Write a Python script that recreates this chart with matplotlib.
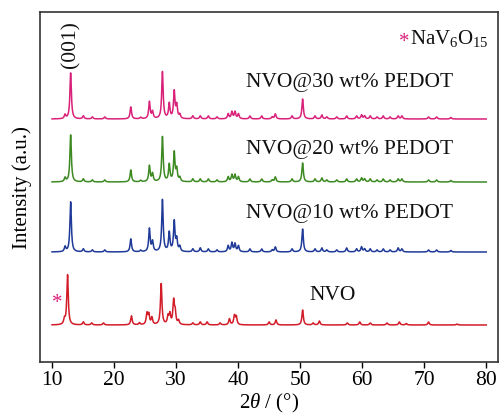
import numpy as np
import matplotlib
matplotlib.use("Agg")
import matplotlib.pyplot as plt

plt.rcParams['font.family'] = ['Liberation Serif', 'DejaVu Serif']
plt.rcParams['mathtext.fontset'] = 'custom'
plt.rcParams['mathtext.rm'] = 'Liberation Serif'
plt.rcParams['mathtext.it'] = 'Liberation Serif:italic'

# Peak lists: (2theta in degrees, relative intensity)
nvo_pos = [12.0, 12.5, 15.05, 16.4, 18.3, 22.8, 24.1, 25.3, 25.6, 26.1, 27.6, 28.7, 29.0, 29.6, 29.85,
           30.4, 32.7, 33.9, 35.0, 37.1, 38.6, 39.4, 39.7, 45.0, 46.1, 50.4, 52.1, 53.1, 57.6, 59.6,
           61.3, 64.0, 66.0, 67.1, 70.7, 75.3]
nvo_int = [5, 50, 3, 2, 2, 9, 2, 11, 10, 7, 41, 8, 10, 23, 12,
           4, 2, 3, 3, 2, 6, 9, 8, 3, 5, 15, 2, 4, 2, 3,
           2, 2, 3, 1.5, 3, 1]

pedot_pos = [12.1, 13.0, 15.05, 16.5, 18.5, 22.7, 24.3, 25.7, 26.2, 27.8, 28.9, 29.7, 30.1, 30.6,
             32.7, 33.9, 35.2, 36.6, 38.4, 39.0, 39.5, 40.05, 41.9, 43.8, 45.5, 46.0, 48.7, 50.4,
             52.4, 53.5, 54.3, 55.9, 57.5, 59.1, 59.9, 60.4, 61.3, 62.4, 63.4, 64.5, 65.8, 66.4,
             70.7, 72.0, 74.3]
nvo10_int = [5, 50, 3, 2, 2, 13, 1.5, 23, 10, 52, 19, 30, 12, 5,
             3, 4, 3, 2, 6, 9, 8, 6, 3, 3, 2, 5, 3, 23,
             3, 4, 2, 2, 4, 3, 5, 3, 3, 2, 3, 2, 4, 3,
             2, 2, 1.5]
nvo20_int = [4, 47, 3, 2, 2, 12, 1.5, 16, 8, 45, 17, 29, 12, 4,
             3, 3, 3, 2, 5, 7, 7, 5, 3, 3, 2, 5, 3, 19,
             3, 4, 2, 2, 3, 3, 4, 3, 3, 2, 3, 2, 3, 3,
             2, 2, 1.5]
nvo30_int = [4, 46, 3, 2, 2, 12, 1.5, 17, 7, 47, 15, 27, 13, 4,
             3, 3, 3, 2, 5, 7, 7, 5, 3, 3, 2, 5, 3, 20,
             3, 4, 2, 2, 3, 3, 4, 3, 3, 2, 3, 2, 3, 3,
             2, 2, 1.5]

labels = ['NVO', 'NVO@10 wt% PEDOT', 'NVO@20 wt% PEDOT', 'NVO@30 wt% PEDOT']
colors = ['#d21c28', '#1f3a98', '#3d8a22', '#d9217a']
offsets = [37, 110, 180, 243]

x = np.linspace(10, 80, 3500)


def pattern(pos, inten, w=0.14):
    y = np.zeros_like(x)
    for p, h in zip(pos, inten):
        y += h * w**2 / ((x - p)**2 + w**2)
    return y


series = [(nvo_pos, nvo_int), (pedot_pos, nvo10_int), (pedot_pos, nvo20_int), (pedot_pos, nvo30_int)]

fig = plt.figure(figsize=(5.0, 4.14), dpi=100)
ax = fig.add_axes([0.08, 0.1232, 0.916, 0.8454])

for (pos, inten), c, off in zip(series, colors, offsets):
    ax.plot(x, pattern(pos, inten) + off, color=c, lw=1.1)

ax.set_xlim(8.06, 81.9)
ax.set_ylim(0, 350)
ax.set_xticks([10, 20, 30, 40, 50, 60, 70, 80])
ax.set_yticks([])
ax.tick_params(axis='x', direction='out', length=4, width=1, labelsize=15.5, pad=2)
for s in ax.spines.values():
    s.set_linewidth(1.2)
    s.set_color('#333333')

ax.set_xlabel(r'2$\it{\theta}$ / (°)', fontsize=15, labelpad=1)
ax.set_ylabel('Intensity (a.u.)', fontsize=15, labelpad=6)

txt_kw = dict(fontsize=15.5, color='#111111', va='center', ha='left')
ax.text(41.2, 280, labels[3], **txt_kw)
ax.text(41.2, 213, labels[2], **txt_kw)
ax.text(41.2, 149, labels[1], **txt_kw)
ax.text(51.5, 67, labels[0], **txt_kw)

ax.text(13.0, 318, '(001)', rotation=90, fontsize=15.5, ha='center', va='center', color='#111111')
ax.text(10.8, 59, '*', color='#d9217a', fontsize=15, ha='center', va='center')
ax.text(66.8, 320, '*', color='#d9217a', fontsize=15, ha='center', va='center')
ax.text(67.7, 324, r'NaV$_{6}$O$_{15}$', color='#111111', fontsize=15, ha='left', va='center')

fig.savefig('out.png', dpi=100)
